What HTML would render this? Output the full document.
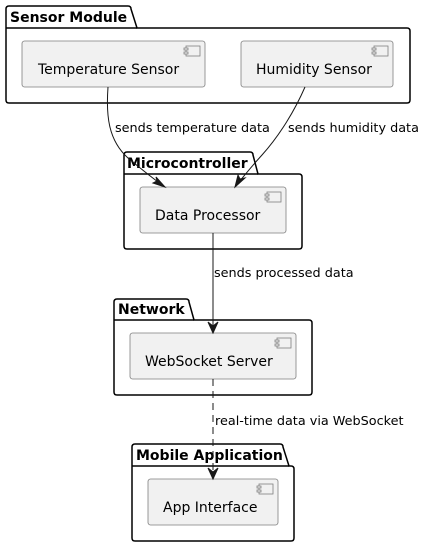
<!DOCTYPE html>
<html><head><meta charset="utf-8"><style>
html,body{margin:0;padding:0;background:#fff;}
svg{display:block;}
text{font-family:"DejaVu Sans","Liberation Sans",sans-serif;}
.pkg{fill:#fff;stroke:#000;stroke-width:1.5;}
.cmp{fill:#f1f1f1;stroke:#7f7f7f;stroke-width:0.8;}
.ic{fill:#f1f1f1;stroke:#7f7f7f;stroke-width:0.8;}
.t{font-size:14px;fill:#000;}
.pt{font-size:14px;font-weight:bold;fill:#000;}
.l{font-size:12.8px;fill:#000;}
.ln{fill:none;stroke:#181818;stroke-width:1;}
</style></head><body>
<svg width="425" height="548" viewBox="0 0 425 548">
<defs>
<g id="icon">
<rect class="ic" x="0" y="0" width="14" height="10"/>
<rect class="ic" x="-2" y="2" width="4" height="2"/>
<rect class="ic" x="-2" y="6" width="4" height="2"/>
</g>
</defs>
<!-- Sensor Module -->
<path class="pkg" d="M6,28 L6,9 Q6,6 9,6 L128,6 Q131,6 131,9 L137,28 L407,28 Q410,28 410,31 L410,100 Q410,103 407,103 L9,103 Q6,103 6,100 Z"/>
<line x1="6" y1="28" x2="137" y2="28" stroke="#000" stroke-width="1.5"/>
<text class="pt" x="10" y="22">Sensor Module</text>
<rect class="cmp" x="22" y="41" width="183" height="46" rx="2.5"/>
<use href="#icon" x="186" y="46"/>
<text class="t" x="38" y="74">Temperature Sensor</text>
<rect class="cmp" x="241" y="41" width="152" height="46" rx="2.5"/>
<use href="#icon" x="374" y="46"/>
<text class="t" x="256" y="74">Humidity Sensor</text>

<!-- Microcontroller -->
<path class="pkg" d="M124,174 L124,155 Q124,152 127,152 L250,152 Q253,152 253,155 L258,174 L299,174 Q302,174 302,177 L302,246 Q302,249 299,249 L127,249 Q124,249 124,246 Z"/>
<line x1="124" y1="174" x2="258" y2="174" stroke="#000" stroke-width="1.5"/>
<text class="pt" x="127" y="168">Microcontroller</text>
<rect class="cmp" x="140" y="187" width="146" height="46" rx="2.5"/>
<use href="#icon" x="267" y="192"/>
<text class="t" x="155" y="220">Data Processor</text>

<!-- Network -->
<path class="pkg" d="M114,320 L114,302 Q114,299 117,299 L186,299 Q189,299 189,302 L194,320 L309,320 Q312,320 312,323 L312,392 Q312,395 309,395 L117,395 Q114,395 114,392 Z"/>
<line x1="114" y1="320" x2="194" y2="320" stroke="#000" stroke-width="1.5"/>
<text class="pt" x="118" y="314">Network</text>
<rect class="cmp" x="130" y="333" width="166" height="46" rx="2.5"/>
<use href="#icon" x="277" y="338"/>
<text class="t" x="145" y="366">WebSocket Server</text>

<!-- Mobile Application -->
<path class="pkg" d="M132,466 L132,447 Q132,444 135,444 L280,444 Q283,444 283,447 L289,466 L291,466 Q294,466 294,469 L294,538 Q294,541 291,541 L135,541 Q132,541 132,538 Z"/>
<line x1="132" y1="466" x2="289" y2="466" stroke="#000" stroke-width="1.5"/>
<text class="pt" x="136" y="460">Mobile Application</text>
<rect class="cmp" x="148" y="479" width="130" height="46" rx="2.5"/>
<use href="#icon" x="259" y="484"/>
<text class="t" x="163" y="512">App Interface</text>

<!-- connectors -->
<path class="ln" d="M108,87 C106,115 108,140 128,158 C140,168 152,178 165,187"/>
<path d="M165,187 L153,183 L157,181 L156,177 Z" fill="#181818" stroke="#181818" stroke-width="1"/>
<text class="l" x="115" y="132">sends temperature data</text>

<path class="ln" d="M305,87 C295,110 280,135 262,155 C252,166 243,177 235,187"/>
<path d="M235,187 L238,175 L240,179 L245,178 Z" fill="#181818" stroke="#181818" stroke-width="1"/>
<text class="l" x="288" y="132">sends humidity data</text>

<line class="ln" x1="213" y1="233" x2="213" y2="332"/>
<path d="M213,333 L208,322 L213,326 L218,322 Z" fill="#181818" stroke="#181818" stroke-width="1"/>
<text class="l" x="214" y="277">sends processed data</text>

<line class="ln" x1="213" y1="379" x2="213" y2="478" stroke-dasharray="7,5"/>
<path d="M213,479 L208,468 L213,472 L218,468 Z" fill="#181818" stroke="#181818" stroke-width="1"/>
<text class="l" x="215" y="425">real-time data via WebSocket</text>
</svg>
</body></html>
